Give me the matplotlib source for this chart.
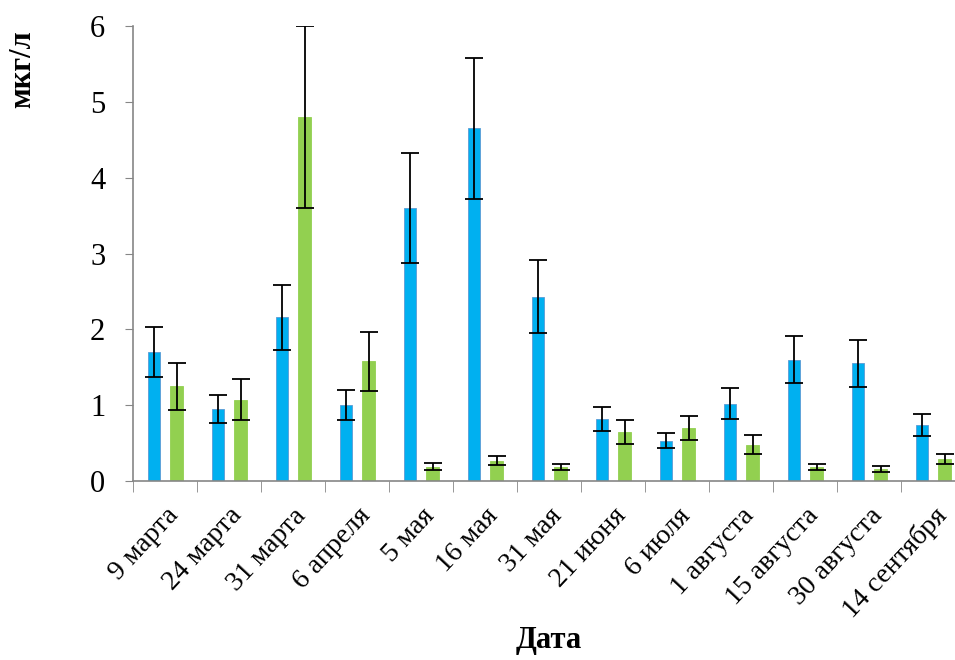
import numpy as np
import matplotlib
matplotlib.use("Agg")
from matplotlib import pyplot as plt
from matplotlib.ticker import FixedLocator

dates = ["9 марта", "24 марта", "31 марта", "6 апреля", "5 мая", "16 мая", "31 мая",
         "21 июня", "6 июля", "1 августа", "15 августа", "30 августа", "14 сентября"]
blue_vals = [1.70, 0.95, 2.16, 1.00, 3.60, 4.65, 2.43, 0.82, 0.53, 1.02, 1.60, 1.55, 0.74]
blue_err = [0.33, 0.18, 0.43, 0.20, 0.72, 0.93, 0.48, 0.16, 0.10, 0.20, 0.31, 0.31, 0.15]
green_vals = [1.25, 1.07, 4.80, 1.58, 0.19, 0.27, 0.19, 0.65, 0.70, 0.48, 0.18, 0.16, 0.29]
green_err = [0.31, 0.27, 1.20, 0.39, 0.05, 0.06, 0.04, 0.16, 0.16, 0.13, 0.04, 0.04, 0.07]

plt.rcParams["font.family"] = ["Liberation Serif", "DejaVu Serif"]

fig = plt.figure(figsize=(9.55, 6.6), dpi=100)
ax = fig.add_axes([0.1393, 0.2712, 0.8712, 0.6894])

x = np.arange(len(dates))
w = 0.19
err_kw = dict(ecolor="black", elinewidth=1.3, capsize=6.5, capthick=1.3)
ax.bar(x - 0.17, blue_vals, w, yerr=blue_err, color="#00B0F0", edgecolor="#5B9BD5",
       linewidth=0.6, error_kw=err_kw)
ax.bar(x + 0.18, green_vals, w, yerr=green_err, color="#92D050", edgecolor="#92D050",
       linewidth=0.6, error_kw=err_kw)

ax.set_xlim(-0.5, len(dates) - 0.5)
ax.set_ylim(0, 6)
ax.set_yticks(range(7))
ax.tick_params(axis="y", labelsize=22, length=6, color="#868686", pad=14)

ax.set_xticks(x)
ax.set_xticklabels(dates, rotation=47, ha="right", rotation_mode="anchor", fontsize=20)
ax.tick_params(axis="x", which="major", length=0, pad=16)
ax.xaxis.set_minor_locator(FixedLocator(np.arange(-0.5, len(dates), 1.0)))
ax.tick_params(axis="x", which="minor", length=8, color="#868686")

for side in ("top", "right"):
    ax.spines[side].set_visible(False)
for side in ("left", "bottom"):
    ax.spines[side].set_color("#868686")
    ax.spines[side].set_linewidth(1.2)

fig.text(0.575, 0.03, "Дата", fontsize=22, fontweight="bold", ha="center", va="center")
fig.text(0.024, 0.895, "мкг/л", fontsize=22, fontweight="bold", rotation=90,
         ha="center", va="center")

fig.savefig("out.png", dpi=100)
